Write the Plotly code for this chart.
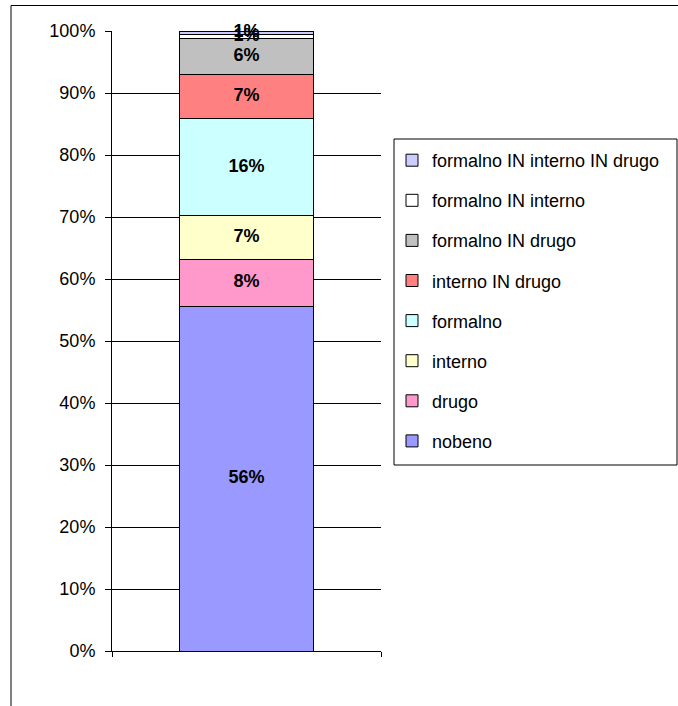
import plotly.graph_objects as go
import numpy as np

categories = [""]
series_names = ["nobeno", "drugo", "interno", "formalno", "interno IN drugo",
                "formalno IN drugo", "formalno IN interno", "formalno IN interno IN drugo"]
series_values = [55.6, 7.6, 7.0, 15.7, 7.1, 5.8, 0.6, 0.6]
series_colors = ["#9999FF", "#FF99CC", "#FFFFCC", "#CCFFFF", "#FF8080",
                 "#C0C0C0", "#FFFFFF", "#CCCCFF"]
y_tick_vals = [0, 10, 20, 30, 40, 50, 60, 70, 80, 90, 100]
y_tick_text = ["0%", "10%", "20%", "30%", "40%", "50%", "60%", "70%", "80%", "90%", "100%"]

FONT = "Liberation Sans, Arial, sans-serif"
W, H = 678, 706
L, R, T, B = 112, 381, 31, 651

def px_x(p):
    return (p - L) / (R - L)

def px_y(p):
    return (B - p) / (B - T)

fig = go.Figure()
for i, (name, val, col) in enumerate(zip(series_names, series_values, series_colors)):
    fig.add_trace(go.Bar(
        x=categories, y=[val], name=name,
        marker=dict(color=col, line=dict(color="#000000", width=1)),
        width=0.5, legendgroup=name, legendrank=100 - i, textposition="none",
    ))

cum = np.cumsum(series_values)
mids = cum - np.array(series_values) / 2
fig.add_trace(go.Scatter(
    x=categories * len(series_values), y=mids, mode="text",
    text=[f"{v:.0f}%" for v in series_values],
    textfont=dict(family=FONT, size=18, color="#000000", weight="bold"),
    showlegend=False, hoverinfo="skip", cliponaxis=False,
))

fig.update_layout(
    width=W, height=H, autosize=False,
    margin=dict(l=L, r=W - R, t=T, b=H - B, pad=0),
    barmode="stack",
    paper_bgcolor="white", plot_bgcolor="white",
    font=dict(family=FONT, size=18, color="#000000"),
    showlegend=True,
    legend=dict(
        x=px_x(392), y=px_y(142), xanchor="left", yanchor="top",
        traceorder="grouped", tracegroupgap=13.7,
        font=dict(family=FONT, size=18, color="#000000"),
        bgcolor="rgba(0,0,0,0)", borderwidth=0,
    ),
    xaxis=dict(
        range=[-0.5, 0.5], showgrid=False, showticklabels=False,
        ticks="outside", tickson="boundaries", ticklen=5, tickcolor="#000000",
        showline=True, linecolor="#000000", linewidth=1, zeroline=False,
    ),
    yaxis=dict(
        range=[0, 100], tickvals=y_tick_vals, ticktext=y_tick_text,
        showgrid=True, gridcolor="#000000", gridwidth=1,
        ticks="outside", ticklen=6, tickcolor="#000000", ticklabelstandoff=6,
        showline=True, linecolor="#000000", linewidth=1, zeroline=False,
    ),
    shapes=[
        dict(type="rect", xref="paper", yref="paper",
             x0=px_x(394), x1=px_x(677), y0=px_y(465), y1=px_y(139),
             line=dict(color="#000000", width=1), fillcolor="rgba(0,0,0,0)"),
        dict(type="line", xref="paper", yref="paper",
             x0=px_x(11), x1=px_x(678), y0=px_y(5.5), y1=px_y(5.5),
             line=dict(color="#000000", width=1)),
        dict(type="line", xref="paper", yref="paper",
             x0=px_x(11), x1=px_x(11), y0=px_y(5.5), y1=px_y(706),
             line=dict(color="#000000", width=1)),
    ],
)

fig.write_html(
    "out.html",
    config={"responsive": False, "displayModeBar": False},
    post_script="document.body.style.margin='0';document.body.style.padding='0';"
                "document.body.style.overflow='hidden';",
)
